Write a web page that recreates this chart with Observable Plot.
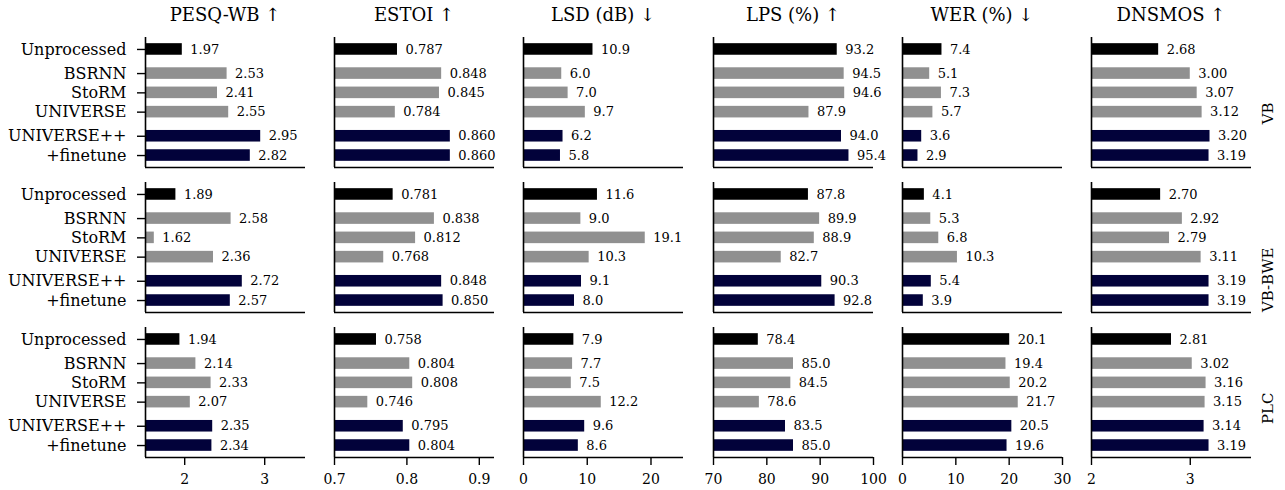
<!DOCTYPE html>
<html><head><meta charset="utf-8">
<script src="https://cdn.jsdelivr.net/npm/d3@7"></script>
<script src="https://cdn.jsdelivr.net/npm/@observablehq/plot@0.6"></script>
<style>
body{margin:0;background:#fff;}
#chart{position:relative;width:1285px;height:490px;font-family:"DejaVu Serif",serif;color:#000;}
.title{position:absolute;top:4px;text-align:center;font-size:18px;white-space:nowrap;}
.col{position:absolute;top:0;}
</style></head><body><div id="chart"></div>
<script>
// ---- data ----
const methods = ["Unprocessed", "BSRNN", "StoRM", "UNIVERSE", "UNIVERSE++", "+finetune"];
const methodGroup = ["input", "baseline", "baseline", "baseline", "ours", "ours"];
const conditions = ["VB", "VB-BWE", "PLC"];
const metricNames = ["PESQ-WB ↑", "ESTOI ↑", "LSD (dB) ↓", "LPS (%) ↑", "WER (%) ↓", "DNSMOS ↑"];
// rows: VB, VB-BWE, PLC ; columns follow `methods`
const pesq = [[1.97, 2.53, 2.41, 2.55, 2.95, 2.82], [1.89, 2.58, 1.62, 2.36, 2.72, 2.57], [1.94, 2.14, 2.33, 2.07, 2.35, 2.34]];
const estoi = [[0.787, 0.848, 0.845, 0.784, 0.860, 0.860], [0.781, 0.838, 0.812, 0.768, 0.848, 0.850], [0.758, 0.804, 0.808, 0.746, 0.795, 0.804]];
const lsd = [[10.9, 6.0, 7.0, 9.7, 6.2, 5.8], [11.6, 9.0, 19.1, 10.3, 9.1, 8.0], [7.9, 7.7, 7.5, 12.2, 9.6, 8.6]];
const lps = [[93.2, 94.5, 94.6, 87.9, 94.0, 95.4], [87.8, 89.9, 88.9, 82.7, 90.3, 92.8], [78.4, 85.0, 84.5, 78.6, 83.5, 85.0]];
const wer = [[7.4, 5.1, 7.3, 5.7, 3.6, 2.9], [4.1, 5.3, 6.8, 10.3, 5.4, 3.9], [20.1, 19.4, 20.2, 21.7, 20.5, 19.6]];
const dnsmos = [[2.68, 3.00, 3.07, 3.12, 3.20, 3.19], [2.70, 2.92, 2.79, 3.11, 3.19, 3.19], [2.81, 3.02, 3.16, 3.15, 3.14, 3.19]];
const xTicks = [[2, 3], [0.7, 0.8, 0.9], [0, 10, 20], [70, 80, 90, 100], [0, 10, 20, 30], [2, 3]];
const xDomains = [[1.51, 3.51], [0.70, 0.921], [0, 25.1], [70, 100], [0, 30], [2, 3.62]];
const decimals = [2, 3, 1, 1, 1, 2];

// ---- styling / layout ----
const colors = {input: "#000000", baseline: "#909090", ours: "#02023a"};
const groupOffset = {input: 0, baseline: 0.25, ours: 0.5};
const pos = methods.map((m, i) => i + groupOffset[methodGroup[i]]);
const yDomain = [-0.62, 6.12];
const panelLeft0 = 145, panelStep = 189.2, panelWidth = 160;
const allValues = [pesq, estoi, lsd, lps, wer, dnsmos];
const font = "DejaVu Serif";

const chart = document.getElementById("chart");

allValues.forEach((vals, c) => {
  const rows = [];
  conditions.forEach((cond, r) => methods.forEach((m, i) => rows.push({cond, method: m, pos: pos[i], group: methodGroup[i], value: vals[r][i]})));
  const first = c === 0, last = c === allValues.length - 1;
  const mL = first ? 145 : 22, mR = last ? 34 : 22;
  const panelLeft = Math.round(panelLeft0 + c * panelStep);
  const dom = xDomains[c];
  const fmt = d3.format(`.${decimals[c]}f`);
  const marks = [
    Plot.rect(rows, {fy: "cond", x1: () => dom[0], x2: "value", y1: d => d.pos - 0.3, y2: d => d.pos + 0.3, fill: d => colors[d.group]}),
    Plot.text(rows, {fy: "cond", x: "value", y: "pos", text: d => fmt(d.value), textAnchor: "start", dx: 8, fontSize: 13}),
    Plot.ruleX([dom[0]], {strokeWidth: 1.6}),
    Plot.ruleY([yDomain[1]], {strokeWidth: 1.6}),
    Plot.axisX({ticks: xTicks[c], tickFormat: d => `${d}`, tickSize: 8, strokeWidth: 1.4, fontSize: 14, tickPadding: 9, label: null})
  ];
  if (first) {
    marks.push(Plot.axisY({ticks: pos, tickFormat: p => methods[pos.indexOf(p)], tickSize: 8, strokeWidth: 1.4, tickPadding: 11, fontSize: 16, label: null}));
  }
  if (last) {
    marks.push(Plot.text(conditions, {fy: d => d, text: d => d, frameAnchor: "right", rotate: -90, dx: 17, fontSize: 15}));
  }
  const plot = Plot.plot({
    width: mL + panelWidth + mR,
    height: 490,
    marginTop: 37, marginBottom: 33, marginLeft: mL, marginRight: mR,
    style: {fontFamily: font, fontSize: "13px", background: "none", overflow: "visible", maxWidth: "none"},
    x: {domain: dom, label: null},
    y: {domain: yDomain, reverse: true, label: null, axis: first ? undefined : null},
    fy: {domain: conditions, paddingInner: 15 / 145, paddingOuter: 0, label: null, axis: null},
    color: {type: "identity"},
    marks
  });
  const wrap = document.createElement("div");
  wrap.className = "col";
  wrap.style.left = (panelLeft - mL) + "px";
  wrap.appendChild(plot);
  chart.appendChild(wrap);
  const t = document.createElement("div");
  t.className = "title";
  t.style.left = panelLeft + "px";
  t.style.width = panelWidth + "px";
  t.textContent = metricNames[c];
  chart.appendChild(t);
});
</script></body></html>
